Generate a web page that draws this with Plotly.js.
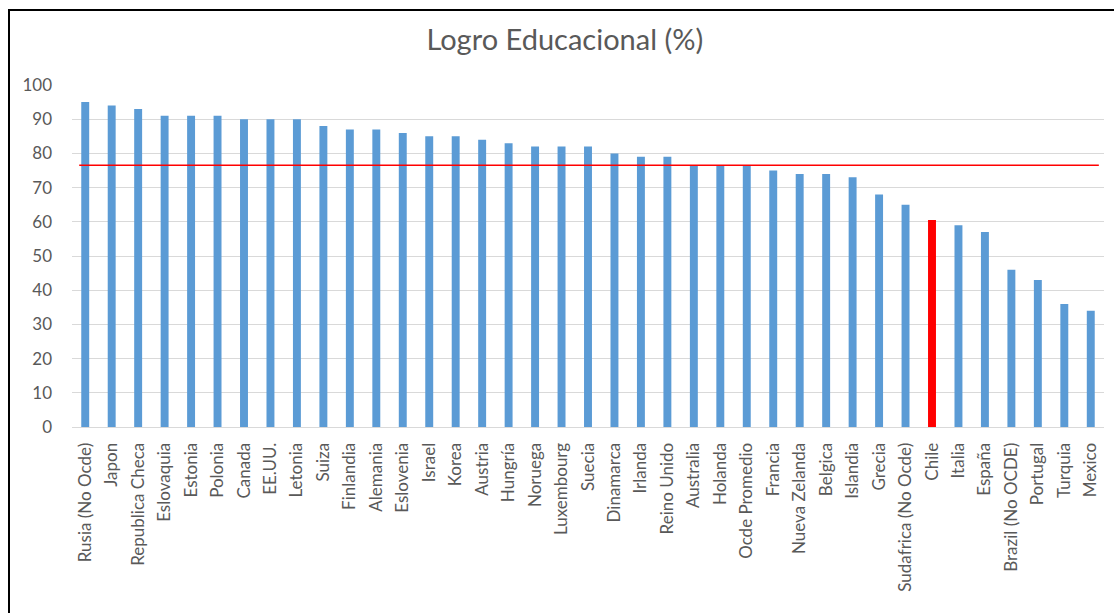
<!DOCTYPE html>
<html>
<head>
<meta charset="utf-8">
<script src="https://cdn.plot.ly/plotly-3.0.1.min.js"></script>
<style>
  html, body { margin: 0; padding: 0; background: #fff; overflow: hidden; }
  #chart { width: 1114px; height: 613px; }
  #frame { position: absolute; left: 8px; top: 9px; width: 2000px; height: 2000px;
           border-left: 2px solid #000; border-top: 2px solid #000; pointer-events: none; }
</style>
</head>
<body>
<div id="chart"></div>
<div id="frame"></div>
<script>
const countries = ["Rusia (No Ocde)", "Japon", "Republica Checa", "Eslovaquia", "Estonia", "Polonia",
  "Canada", "EE.UU.", "Letonia", "Suiza", "Finlandia", "Alemania", "Eslovenia", "Israel", "Korea",
  "Austria", "Hungría", "Noruega", "Luxembourg", "Suecia", "Dinamarca", "Irlanda", "Reino Unido",
  "Australia", "Holanda", "Ocde Promedio", "Francia", "Nueva Zelanda", "Belgica", "Islandia",
  "Grecia", "Sudafrica (No Ocde)", "Chile", "Italia", "España", "Brazil (No OCDE)", "Portugal",
  "Turquia", "Mexico"];
const logro = [95, 94, 93, 91, 91, 91, 90, 90, 90, 88, 87, 87, 86, 85, 85, 84, 83, 82, 82, 82, 80,
  79, 79, 76.5, 76.5, 76.5, 75, 74, 74, 73, 68, 65, 60.5, 59, 57, 46, 43, 36, 34];
const ocdePromedio = 76.5;
const highlight = "Chile";
const yTicks = [0, 10, 20, 30, 40, 50, 60, 70, 80, 90, 100];

const colors = countries.map(c => c === highlight ? "#FF0000" : "#5B9BD5");

const trace = {
  type: "bar",
  x: countries,
  y: logro,
  marker: { color: colors },
  hoverinfo: "x+y"
};

const layout = {
  width: 1114,
  height: 613,
  margin: { l: 72, r: 10, t: 85, b: 186, pad: 0 },
  paper_bgcolor: "#fff",
  plot_bgcolor: "#fff",
  showlegend: false,
  bargap: 0.7,
  font: { family: "Lato, 'Open Sans', sans-serif", color: "#595959" },
  title: {
    text: "Logro Educacional (%)",
    font: { family: "Lato, sans-serif", size: 29, color: "#595959" },
    x: 0.507, xanchor: "center", xref: "container",
    y: 0.935, yanchor: "middle", yref: "container"
  },
  xaxis: {
    type: "category",
    tickangle: -90,
    tickfont: { size: 17, color: "#595959" },
    showgrid: false,
    showline: true,
    linecolor: "#D9D9D9",
    linewidth: 1,
    ticks: "",
    ticklabelstandoff: 8,
    range: [-0.5, countries.length - 0.5]
  },
  yaxis: {
    range: [0, 100],
    tickvals: yTicks,
    ticktext: yTicks.map(String),
    tickfont: { size: 17, color: "#595959" },
    showgrid: true,
    gridcolor: "#D9D9D9",
    gridwidth: 1,
    zeroline: false,
    showline: false,
    ticks: "",
    ticklabelstandoff: 19
  },
  shapes: [{
    type: "line",
    xref: "paper", yref: "y",
    x0: 0.007, x1: 0.995,
    y0: ocdePromedio, y1: ocdePromedio,
    line: { color: "#FF0000", width: 1.5 }
  }]
};

Plotly.newPlot("chart", [trace], layout, { staticPlot: true, displayModeBar: false });
</script>
</body>
</html>
